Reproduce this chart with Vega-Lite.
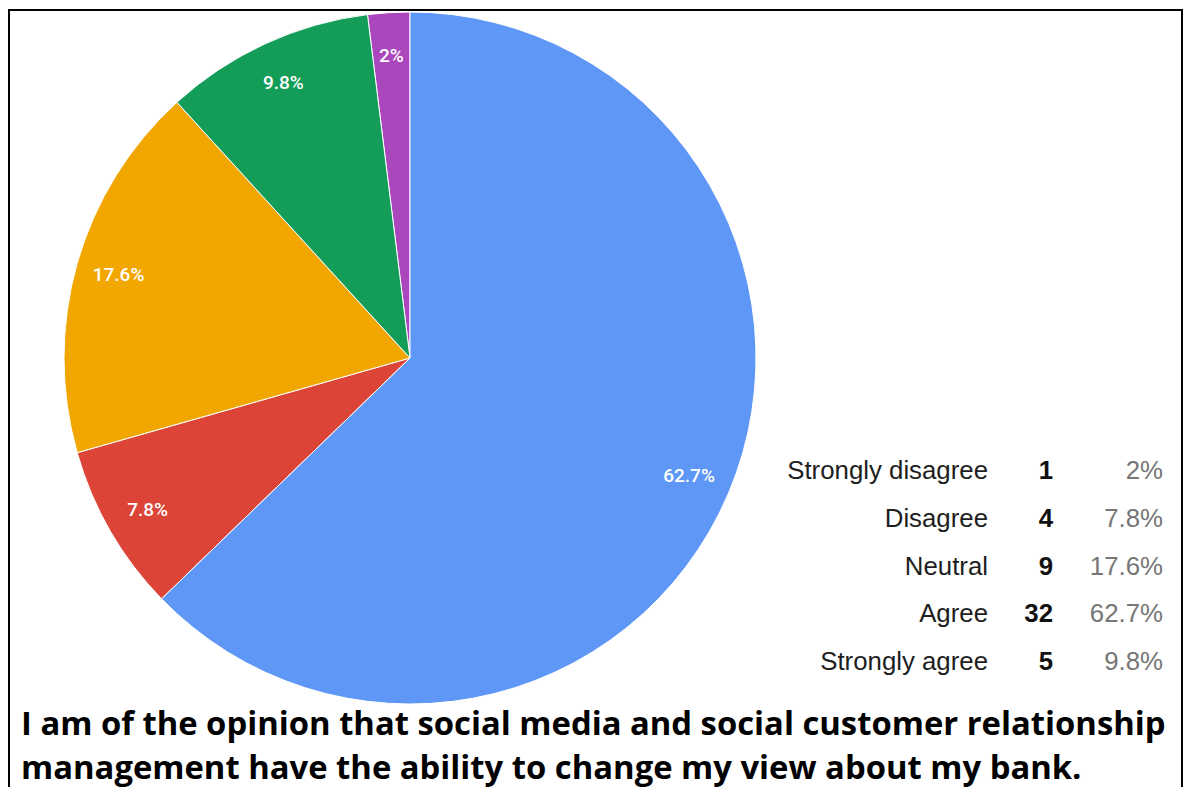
{
  "$schema": "https://vega.github.io/schema/vega-lite/v6.json",
  "width": 1173,
  "height": 800,
  "autosize": {"type": "none"},
  "padding": {"left": 9, "top": 10, "right": 8, "bottom": 0},
  "background": "#ffffff",
  "config": {"view": {"stroke": "#000000", "strokeWidth": 2}},
  "title": {
    "text": ["\u00a0I am of the opinion that social media and social customer relationship", "management have the ability to change my view about my bank."],
    "orient": "bottom",
    "anchor": "start",
    "offset": -101,
    "dx": 12,
    "font": "Open Sans",
    "fontWeight": "bold",
    "fontSize": 32.8,
    "lineHeight": 44,
    "color": "#000000"
  },
  "data": {
    "values": [
      {"label": "Strongly disagree", "count": 1, "pct": "2%"},
      {"label": "Disagree", "count": 4, "pct": "7.8%"},
      {"label": "Neutral", "count": 9, "pct": "17.6%"},
      {"label": "Agree", "count": 32, "pct": "62.7%"},
      {"label": "Strongly agree", "count": 5, "pct": "9.8%"}
    ]
  },
  "layer": [
    {
      "mark": {"type": "arc", "x": 401, "y": 348, "outerRadius": 346, "stroke": "#ffffff", "strokeWidth": 1},
      "encoding": {
        "theta": {"field": "count", "type": "quantitative", "stack": true},
        "order": {"field": "label", "type": "nominal", "sort": "ascending"},
        "color": {
          "field": "label", "type": "nominal", "legend": null,
          "scale": {
            "domain": ["Agree", "Disagree", "Neutral", "Strongly agree", "Strongly disagree"],
            "range": ["#5e97f6", "#db4437", "#f2a600", "#139d58", "#ab47bc"]
          }
        }
      }
    },
    {
      "mark": {"type": "text", "x": 401, "y": 348, "radius": 303, "fill": "#ffffff", "font": "Roboto", "fontSize": 19, "fontWeight": 500, "align": "center", "baseline": "middle"},
      "encoding": {
        "theta": {"field": "count", "type": "quantitative", "stack": true},
        "order": {"field": "label", "type": "nominal", "sort": "ascending"},
        "detail": {"field": "label", "type": "nominal"},
        "text": {"field": "pct", "type": "nominal"}
      }
    },
    {
      "mark": {"type": "text", "align": "right", "baseline": "middle", "font": "Liberation Sans", "fontSize": 25.8, "fill": "#1e1e1e"},
      "encoding": {
        "x": {"datum": "label", "type": "nominal", "axis": null, "scale": {"type": "point", "domain": ["label", "count", "pct"], "range": [979, 1154], "padding": 0}},
        "y": {"field": "label", "type": "nominal", "axis": null, "sort": ["Strongly disagree", "Disagree", "Neutral", "Agree", "Strongly agree"], "scale": {"type": "point", "range": [461, 652], "padding": 0}},
        "text": {"field": "label", "type": "nominal"}
      }
    },
    {
      "mark": {"type": "text", "align": "right", "baseline": "middle", "font": "Liberation Sans", "fontSize": 25.8, "fontWeight": "bold", "fill": "#111111", "dx": -22.5},
      "encoding": {
        "x": {"datum": "count", "type": "nominal"},
        "y": {"field": "label", "type": "nominal", "sort": ["Strongly disagree", "Disagree", "Neutral", "Agree", "Strongly agree"]},
        "text": {"field": "count", "type": "quantitative"}
      }
    },
    {
      "mark": {"type": "text", "align": "right", "baseline": "middle", "font": "Liberation Sans", "fontSize": 25.8, "fill": "#767676"},
      "encoding": {
        "x": {"datum": "pct", "type": "nominal"},
        "y": {"field": "label", "type": "nominal", "sort": ["Strongly disagree", "Disagree", "Neutral", "Agree", "Strongly agree"]},
        "text": {"field": "pct", "type": "nominal"}
      }
    }
  ]
}
